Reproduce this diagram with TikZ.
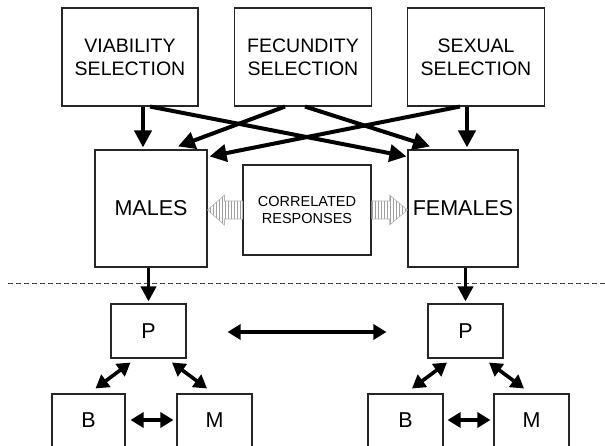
\documentclass[tikz,border=0pt]{standalone}
\usepackage{fontspec}
\setmainfont{Liberation Sans}
\usetikzlibrary{arrows.meta,patterns,calc}
\begin{document}
\begin{tikzpicture}[x=1pt,y=-1pt,
  box/.style={draw=black!85,line width=1.1pt,rectangle,inner sep=0pt,align=center},
  toptext/.style={font=\fontsize{19.5pt}{23pt}\selectfont},
  bigtext/.style={font=\fontsize{21.5pt}{24pt}\selectfont},
  smalltext/.style={font=\fontsize{14.5pt}{17.5pt}\selectfont},
  selarrow/.style={line width=4pt,-{Triangle[length=17pt,width=17pt]}},
  downarrow/.style={line width=3.8pt,-{Triangle[length=15pt,width=15pt]}},
  dblarrow/.style={line width=3.6pt,{Triangle[length=13pt,width=15pt]}-{Triangle[length=13pt,width=15pt]}},
  grayarrow/.style={draw=gray!60,line width=0.6pt,pattern=vertical lines,pattern color=gray!75}
]
\clip (0,0) rectangle (605,446);
\fill[white] (0,0) rectangle (605,446);
% top boxes
\node[box,toptext,minimum width=136pt,minimum height=98pt] (via) at (130,57) {VIABILITY\\SELECTION};
\node[box,toptext,minimum width=137pt,minimum height=98pt] (fec) at (303,57) {FECUNDITY\\SELECTION};
\node[box,toptext,minimum width=137pt,minimum height=98pt] (sex) at (476,57) {SEXUAL\\SELECTION};
% middle boxes
\node[box,bigtext,minimum width=112pt,minimum height=117pt] (males) at (151,208.5) {MALES};
\node[box,bigtext,minimum width=110pt,minimum height=117pt] (fem) at (463,208.5) {FEMALES};
\node[box,smalltext,minimum width=128pt,minimum height=90pt] (corr) at (307,210) {CORRELATED\\RESPONSES};
% bottom boxes
\node[box,bigtext,minimum width=75pt,minimum height=54pt] (Pl) at (148.5,331) {P};
\node[box,bigtext,minimum width=75pt,minimum height=54pt] (Pr) at (465.5,331) {P};
\node[box,minimum width=73pt,minimum height=60pt] (Bl) at (88.5,424) {};
\node[box,minimum width=75pt,minimum height=60pt] (Ml) at (214.5,424) {};
\node[box,minimum width=75pt,minimum height=60pt] (Br) at (405.5,424) {};
\node[box,minimum width=75pt,minimum height=60pt] (Mr) at (531.5,424) {};
\node[bigtext] (Bltext) at (88.5,420) {B};
\node[bigtext] (Mltext) at (214.5,420) {M};
\node[bigtext] (Brtext) at (405.5,420) {B};
\node[bigtext] (Mrtext) at (531.5,420) {M};
% dashed separator
\coordinate (dl) at (8,284);
\coordinate (dr) at (605,284);
\draw[gray!50!black,line width=1pt,dash pattern=on 5pt off 3pt] (dl) -- (dr);
% selection arrows
\draw[selarrow] ([xshift=13pt]via.south) -- ([xshift=-8pt,yshift=2pt]males.north);
\draw[selarrow] ([xshift=20pt]via.south) -- ([xshift=-1pt,yshift=-7pt]fem.north west);
\draw[selarrow] ([xshift=-18pt]fec.south) -- ([xshift=27pt,yshift=3pt]males.north);
\draw[selarrow] ([xshift=2pt]fec.south) -- ([xshift=-33pt,yshift=3pt]fem.north);
\draw[selarrow] ([xshift=-16pt]sex.south) -- ([xshift=2pt,yshift=-7pt]males.north east);
\draw[selarrow] ([xshift=-9pt]sex.south) -- ([xshift=4pt,yshift=2pt]fem.north);
% correlated responses arrows
\path[grayarrow] ([yshift=9pt]corr.west) -- ([xshift=-18pt,yshift=9pt]corr.west) -- ([xshift=-18pt,yshift=15pt]corr.west) -- (males.east |- corr.west) -- ([xshift=-18pt,yshift=-15pt]corr.west) -- ([xshift=-18pt,yshift=-9pt]corr.west) -- ([yshift=-9pt]corr.west) -- cycle;
\path[grayarrow] ([yshift=9pt]corr.east) -- ([xshift=18pt,yshift=9pt]corr.east) -- ([xshift=18pt,yshift=15pt]corr.east) -- (fem.west |- corr.east) -- ([xshift=18pt,yshift=-15pt]corr.east) -- ([xshift=18pt,yshift=-9pt]corr.east) -- ([yshift=-9pt]corr.east) -- cycle;
% down to P
\draw[downarrow] (Pl.north |- males.south) -- ([yshift=2pt]Pl.north);
\draw[downarrow] (Pr.north |- fem.south) -- ([yshift=2pt]Pr.north);
% bottom double arrows
\draw[dblarrow,shorten <=41pt,shorten >=41pt] ([yshift=-1pt]Pl.east) -- ([yshift=-1pt]Pr.west);
\draw[dblarrow] ([xshift=-18pt,yshift=-4pt]Pl.south) -- ([xshift=7pt,yshift=5pt]Bl.north);
\draw[dblarrow] ([xshift=23.5pt,yshift=-4pt]Pl.south) -- ([xshift=-7.5pt,yshift=5pt]Ml.north);
\draw[dblarrow,shorten <=5pt,shorten >=3pt] ([yshift=4pt]Bl.east) -- ([yshift=4pt]Ml.west);
\draw[dblarrow] ([xshift=-18.5pt,yshift=-4pt]Pr.south) -- ([xshift=6.5pt,yshift=5pt]Br.north);
\draw[dblarrow] ([xshift=23.5pt,yshift=-4pt]Pr.south) -- ([xshift=-7.5pt,yshift=5pt]Mr.north);
\draw[dblarrow,shorten <=4pt,shorten >=3pt] ([yshift=4pt]Br.east) -- ([yshift=4pt]Mr.west);
\end{tikzpicture}
\end{document}
